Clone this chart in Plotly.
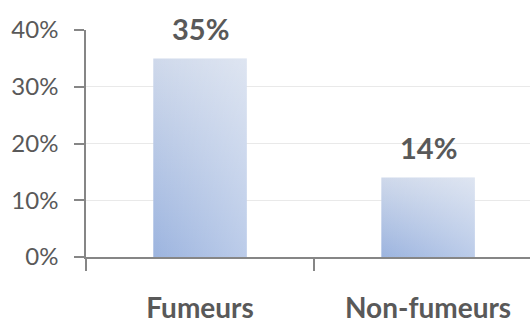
import plotly.graph_objects as go

# Share of each group (fraction)
categories = ["Fumeurs", "Non-fumeurs"]
values = [0.35, 0.14]
value_labels = ["35%", "14%"]
y_ticks = [0.0, 0.1, 0.2, 0.3, 0.4]

BAR_WIDTH = 0.41
FONT = "Lato"
TEXT = "#595959"
AXIS = "#868686"

fig = go.Figure()

for i, v in enumerate(values):
    xs = [i - BAR_WIDTH / 2, i + BAR_WIDTH / 2, i + BAR_WIDTH / 2, i - BAR_WIDTH / 2, i - BAR_WIDTH / 2]
    ys = [0, 0, v, v, 0]
    # base bar: vertical blue gradient, darker at the bottom
    fig.add_trace(go.Scatter(
        x=xs, y=ys, mode="lines", fill="toself", line=dict(width=0),
        fillgradient=dict(type="vertical",
                          colorscale=[[0, "#9cb4df"], [1, "#cfd9eb"]]),
        hoverinfo="skip", showlegend=False,
    ))
    # lighten towards the right side for a diagonal sheen
    fig.add_trace(go.Scatter(
        x=xs, y=ys, mode="lines", fill="toself", line=dict(width=0),
        fillgradient=dict(type="horizontal",
                          colorscale=[[0, "rgba(255,255,255,0)"], [1, "rgba(255,255,255,0.32)"]]),
        hoverinfo="skip", showlegend=False,
    ))
    fig.add_annotation(
        x=i, y=v, text=f"<b>{value_labels[i]}</b>", showarrow=False,
        yanchor="middle", yshift=30, font=dict(family=FONT, size=29, color=TEXT),
    )

# invisible trace bound to the boundary-tick axis
fig.add_trace(go.Scatter(x=[0, 1], y=[0, 0], xaxis="x2", mode="markers",
                         marker=dict(opacity=0), hoverinfo="skip", showlegend=False))

x_range = [-0.5, 1.447]

fig.update_layout(
    width=530, height=325,
    margin=dict(l=86, r=0, t=30, b=68),
    paper_bgcolor="white", plot_bgcolor="white",
    font=dict(family=FONT, color=TEXT),
    xaxis=dict(
        range=x_range, tickmode="array", tickvals=[0, 1],
        ticktext=[f"<b>{c}</b>" for c in categories],
        ticks="", showgrid=False, zeroline=False,
        showline=True, linecolor=AXIS, linewidth=1.5,
        tickfont=dict(family=FONT, size=28, color=TEXT),
        ticklabelstandoff=26, automargin=False,
    ),
    xaxis2=dict(
        range=x_range, overlaying="x", anchor="y", side="bottom",
        tickmode="array", tickvals=[-0.5, 0.5, 1.5],
        ticks="outside", ticklen=13, tickwidth=1.5, tickcolor=AXIS,
        showticklabels=False, showgrid=False, zeroline=False, showline=False,
        automargin=False,
    ),
    yaxis=dict(
        range=[0, 0.4], tickmode="array", tickvals=y_ticks, tickformat=".0%",
        showgrid=True, gridcolor="#e9e9e9", gridwidth=1,
        zeroline=False, showline=True, linecolor=AXIS, linewidth=1.5,
        ticks="outside", ticklen=10, tickwidth=1.5, tickcolor=AXIS,
        tickfont=dict(family=FONT, size=24, color=TEXT),
        ticklabelstandoff=11, automargin=False,
    ),
)

fig.write_html("out.html")
